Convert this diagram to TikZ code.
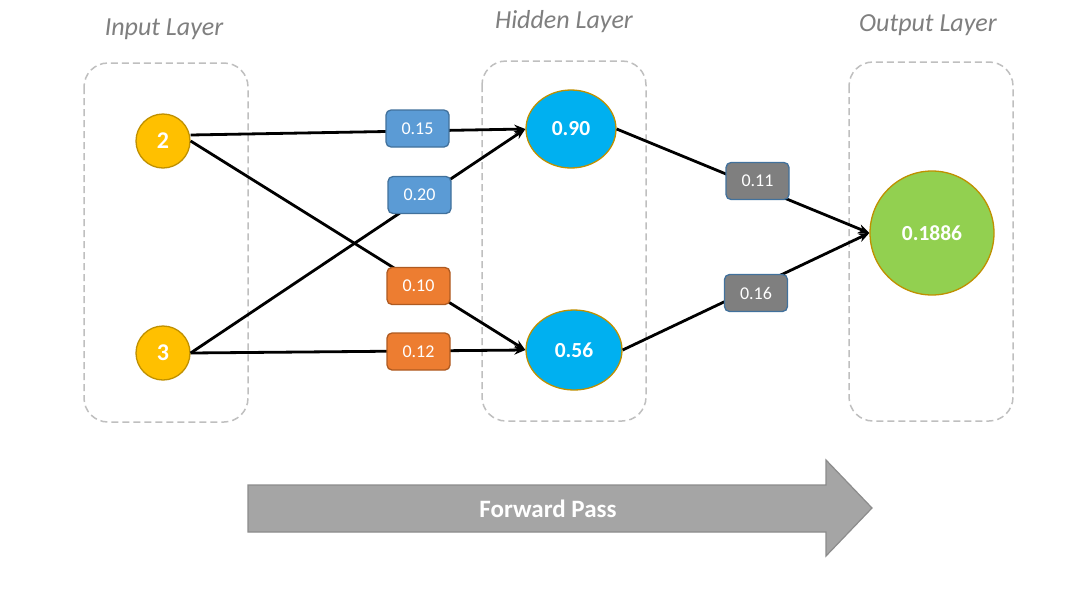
\documentclass[tikz,border=0pt]{standalone}
\usepackage{fontspec}
\setmainfont{Carlito}
\usetikzlibrary{shapes.geometric,arrows.meta}
\definecolor{inyel}{HTML}{FFC000}
\definecolor{gold}{HTML}{BF9000}
\definecolor{hidblue}{HTML}{00B0F0}
\definecolor{outgreen}{HTML}{92D050}
\definecolor{wblue}{HTML}{5B9BD5}
\definecolor{wblueb}{HTML}{41719C}
\definecolor{worange}{HTML}{ED7D31}
\definecolor{worangeb}{HTML}{AE5A21}
\definecolor{wgray}{HTML}{7F7F7F}
\definecolor{arrowfill}{HTML}{A5A5A5}
\definecolor{arrowline}{HTML}{8C8C8C}
\definecolor{dashgray}{HTML}{BFBFBF}
\definecolor{labelgray}{HTML}{7F7F7F}
\tikzset{
  layerbox/.style={draw=dashgray, line width=1.5pt, dash pattern=on 7pt off 4pt, rounded corners=24pt},
  layerlabel/.style={text=labelgray, font=\fontsize{26}{28}\selectfont\itshape},
  inneuron/.style={circle, draw=gold, fill=inyel, line width=1.3pt, minimum size=54pt, inner sep=0pt, text=white, font=\fontsize{24}{26}\selectfont\bfseries},
  hidneuron/.style={ellipse, draw=gold, fill=hidblue, line width=1.3pt, inner sep=0pt, text=white, font=\fontsize{21.5}{24}\selectfont\bfseries},
  outneuron/.style={circle, draw=gold, fill=outgreen, line width=1.3pt, minimum size=124pt, inner sep=0pt, text=white, font=\fontsize{21.5}{24}\selectfont\bfseries},
  weightbox/.style={rectangle, rounded corners=5pt, line width=1.3pt, minimum width=63pt, minimum height=37pt, inner sep=0pt, text=white, font=\fontsize{18}{20}\selectfont},
  wb/.style={weightbox, fill=wblue, draw=wblueb},
  wo/.style={weightbox, fill=worange, draw=worangeb},
  wg/.style={weightbox, fill=wgray, draw=wblueb},
  conn/.style={line width=2.8pt, -{Stealth[length=11pt,width=9pt]}},
}
\begin{document}
\begin{tikzpicture}[x=1pt,y=-1pt]
\useasboundingbox (0,0) rectangle (1084,600);
\fill[white] (0,0) rectangle (1084,600);
% layer boxes
\draw[layerbox] (84,63) rectangle (248,422);
\draw[layerbox] (482,61) rectangle (646,421);
\draw[layerbox] (849,62) rectangle (1013,421);
\node[layerlabel] (lin) at (164,29) {Input Layer};
\node[layerlabel] (lhid) at (564,22) {Hidden Layer};
\node[layerlabel] (lout) at (928,25) {Output Layer};
% neurons
\node[inneuron] (x1) at (163,141) {2};
\node[inneuron] (x2) at (163,353) {3};
\node[hidneuron, minimum width=90pt, minimum height=78pt] (h1) at (571,129) {0.90};
\node[hidneuron, minimum width=96pt, minimum height=80pt] (h2) at (574,350) {0.56};
\node[outneuron] (o) at (932,233) {0.1886};
% connectors
\draw[conn] (x1.east) ++(0,-6) coordinate (x1a) (x1a) -- (h1.west);
\draw[conn] (x2.east) -- (h1.west);
\draw[conn] (x1.east) -- (h2.west);
\draw[conn] (x2.east) -- (h2.west);
\draw[conn] (h1.east) -- (o.west);
\draw[conn] (h2.east) -- (o.west);
% weights
\node[wb] (w15) at (417.5,128.5) {0.15};
\node[wb] (w20) at (419.5,195) {0.20};
\node[wo] (w10) at (418.5,286) {0.10};
\node[wo] (w12) at (418.5,351.5) {0.12};
\node[wg] (w11) at (757.5,181) {0.11};
\node[wg] (w16) at (756,293) {0.16};
% forward pass arrow
\draw[draw=arrowline, fill=arrowfill, line width=1.2pt]
  (248,485) -- (826,485) -- (826,460) -- (872,508) -- (826,556) -- (826,532) -- (248,532) -- cycle;
\node[text=white, font=\fontsize{25}{28}\selectfont\bfseries] (fp) at (548,509) {Forward Pass};
\end{tikzpicture}
\end{document}
